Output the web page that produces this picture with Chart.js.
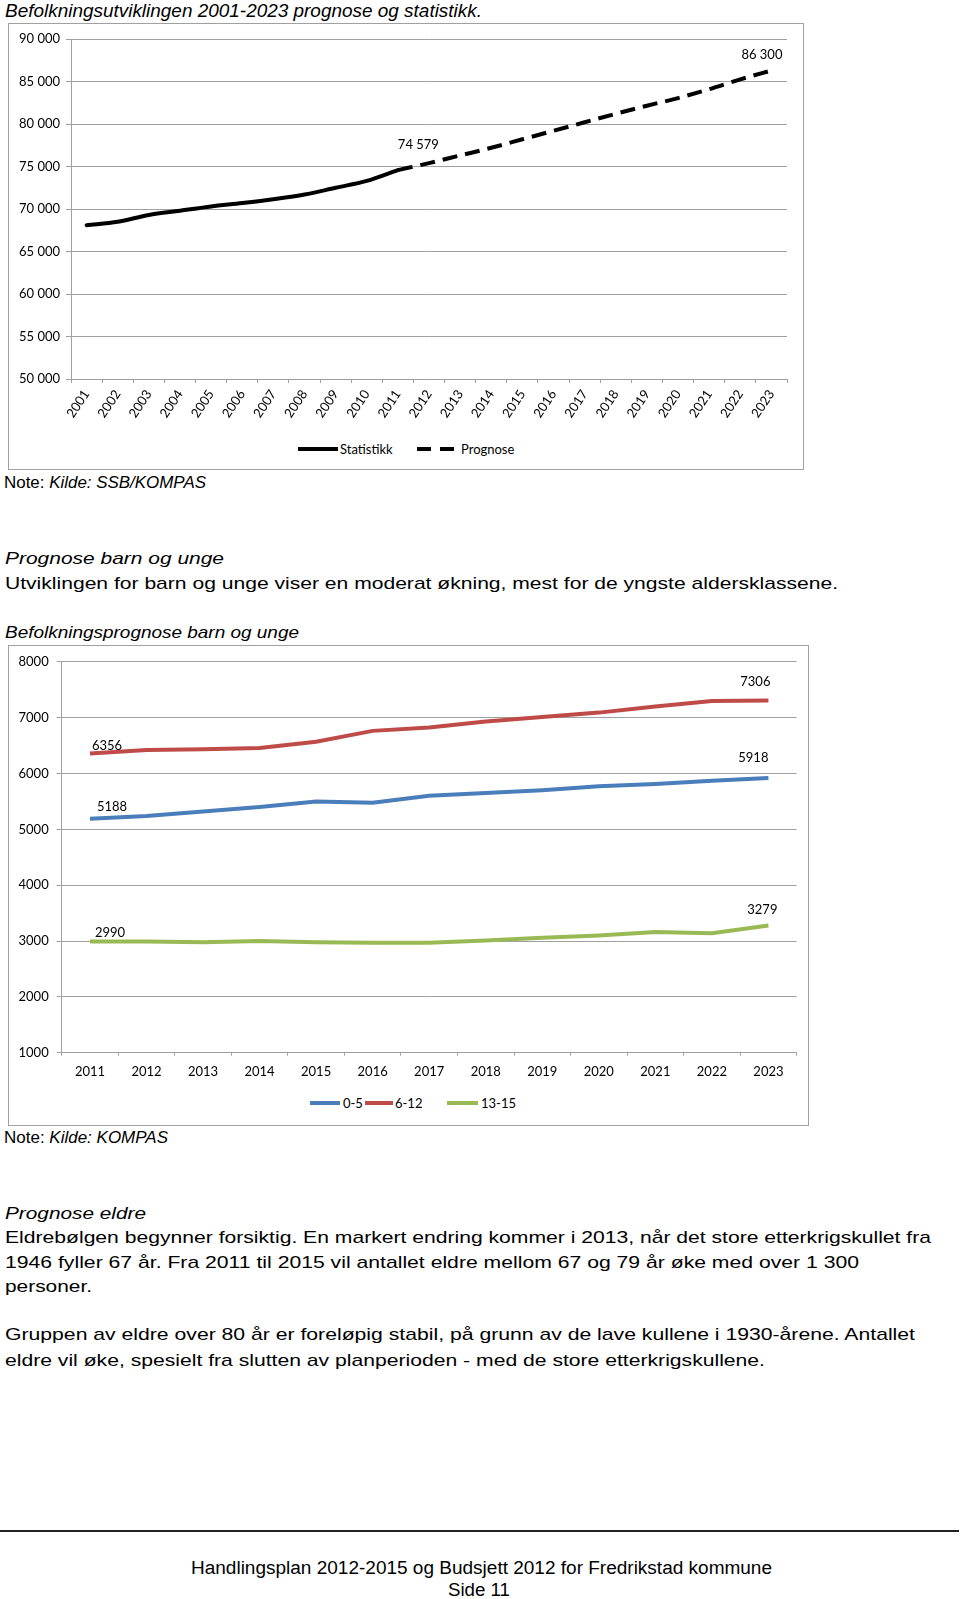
<!DOCTYPE html>
<html lang="no">
<head>
<meta charset="utf-8">
<title>Befolkningsutviklingen</title>
<script src="https://cdn.jsdelivr.net/npm/chart.js@4.4.1/dist/chart.umd.min.js"></script>
<style>
  html, body { margin: 0; padding: 0; background: #fff; }
  body { width: 960px; height: 1599px; position: relative; overflow: hidden;
         font-family: 'Liberation Sans', Arial, sans-serif; color: #000; }
  .t { position: absolute; white-space: nowrap; line-height: 1; transform-origin: 0 50%; }
  .i { font-style: italic; }
  .box { position: absolute; border: 1px solid #a0a0a0; box-sizing: border-box; }
  canvas { position: absolute; }
  .lg { position: absolute; font-family: Lato, sans-serif; font-size: 13px; line-height: 14px; white-space: nowrap; }
  .sw { position: absolute; height: 4px; }
  .hr { position: absolute; left: 0; width: 959px; top: 1530px; height: 1.5px; background: #222; }
</style>
</head>
<body>

<div class="t i fit" style="left:5px; top:2.5px; font-size:17.5px" data-w="477">Befolkningsutviklingen 2001-2023 prognose og statistikk.</div>

<!-- Diagram 1 -->
<div class="box" style="left:8px; top:23px; width:796px; height:447px"></div>
<canvas id="chartBefolkning" width="794" height="410" style="left:9px; top:24px"></canvas>
<div class="sw" style="left:298px; top:447px; width:40px; background:#000"></div>
<div class="lg" style="left:340px; top:442px">Statistikk</div>
<div class="sw" style="left:417px; top:447px; width:38px; background:repeating-linear-gradient(to right,#000 0 14px,transparent 14px 23px)"></div>
<div class="lg" style="left:461px; top:442px">Prognose</div>

<div class="t fit" style="left:4px; top:474px; font-size:16.5px" data-w="202">Note: <span class="i">Kilde: SSB/KOMPAS</span></div>

<div class="t i fit" style="left:5px; top:549.5px; font-size:17px" data-w="219">Prognose barn og unge</div>
<div class="t fit" style="left:5px; top:575px; font-size:17px" data-w="833">Utviklingen for barn og unge viser en moderat økning, mest for de yngste aldersklassene.</div>
<div class="t i fit" style="left:5px; top:624px; font-size:17px" data-w="294">Befolkningsprognose barn og unge</div>

<!-- Diagram 2 -->
<div class="box" style="left:8px; top:645px; width:801px; height:481px"></div>
<canvas id="chartBarn" width="799" height="440" style="left:9px; top:646px"></canvas>
<div class="sw" style="left:310px; top:1101px; width:30px; background:#4a7ebb"></div>
<div class="lg" style="left:343px; top:1096px">0-5</div>
<div class="sw" style="left:365px; top:1101px; width:28px; background:#be4b48"></div>
<div class="lg" style="left:395px; top:1096px">6-12</div>
<div class="sw" style="left:447px; top:1101px; width:31px; background:#98b954"></div>
<div class="lg" style="left:481px; top:1096px">13-15</div>

<div class="t fit" style="left:4px; top:1129px; font-size:16.5px" data-w="164">Note: <span class="i">Kilde: KOMPAS</span></div>

<div class="t i fit" style="left:5px; top:1204.5px; font-size:17px" data-w="141">Prognose eldre</div>
<div class="t fit" style="left:5px; top:1229px; font-size:17px" data-w="926">Eldrebølgen begynner forsiktig. En markert endring kommer i 2013, når det store etterkrigskullet fra</div>
<div class="t fit" style="left:5px; top:1253.5px; font-size:17px" data-w="854">1946 fyller 67 år. Fra 2011 til 2015 vil antallet eldre mellom 67 og 79 år øke med over 1 300</div>
<div class="t fit" style="left:5px; top:1278px; font-size:17px" data-w="87">personer.</div>
<div class="t fit" style="left:5px; top:1326px; font-size:17px" data-w="910">Gruppen av eldre over 80 år er foreløpig stabil, på grunn av de lave kullene i 1930-årene. Antallet</div>
<div class="t fit" style="left:5px; top:1351.5px; font-size:17px" data-w="760">eldre vil øke, spesielt fra slutten av planperioden - med de store etterkrigskullene.</div>

<div class="hr"></div>
<div class="t fit" style="left:191px; top:1559px; font-size:18px" data-w="581">Handlingsplan 2012-2015 og Budsjett 2012 for Fredrikstad kommune</div>
<div class="t fit" style="left:448px; top:1580.5px; font-size:18px" data-w="62">Side 11</div>

<script>
// ---- Data: befolkningsutvikling 2001-2023 ----
const aar = ['2001', '2002', '2003', '2004', '2005', '2006', '2007', '2008', '2009', '2010', '2011', '2012',
             '2013', '2014', '2015', '2016', '2017', '2018', '2019', '2020', '2021', '2022', '2023'];
const statistikk = [68100, 68500, 69300, 69800, 70300, 70700, 71150, 71700, 72500, 73300, 74579,
                    null, null, null, null, null, null, null, null, null, null, null, null];
const prognose = [null, null, null, null, null, null, null, null, null, null, 74579,
                  75400, 76300, 77200, 78200, 79200, 80200, 81200, 82150, 83050, 84100, 85250, 86300];

// ---- Data: barn og unge 2011-2023 ----
const aarBarn = ['2011', '2012', '2013', '2014', '2015', '2016', '2017', '2018', '2019', '2020', '2021', '2022', '2023'];
const alder0_5 = [5188, 5240, 5320, 5400, 5500, 5475, 5600, 5650, 5700, 5770, 5810, 5870, 5918];
const alder6_12 = [6356, 6420, 6435, 6455, 6570, 6763, 6822, 6930, 7010, 7090, 7200, 7300, 7306];
const alder13_15 = [2990, 2990, 2980, 3000, 2980, 2970, 2970, 3010, 3060, 3100, 3160, 3140, 3279];

const GRID = '#a0a0a0';
const FONT = { family: 'Lato, sans-serif', size: 13 };

// Tekstlinjer strekkes til samme bredde som i originalen
document.querySelectorAll('.fit').forEach(el => {
  const natural = el.getBoundingClientRect().width;
  el.style.transform = `scaleX(${Number(el.dataset.w) / natural})`;
});

/** Tusenskille med mellomrom: 90000 -> '90 000' */
function tusen(v) {
  return String(v).replace(/\B(?=(\d{3})+(?!\d))/g, ' ');
}

/** Plugin for dataetiketter ved utvalgte punkter */
const verdiEtiketter = {
  id: 'verdiEtiketter',
  afterDatasetsDraw(chart, args, opts) {
    const { ctx } = chart;
    ctx.save();
    ctx.font = `${FONT.size}px ${FONT.family}`;
    ctx.fillStyle = '#000';
    ctx.textBaseline = 'middle';
    opts.items.forEach(([ds, idx, dx, dy, align]) => {
      const pt = chart.getDatasetMeta(ds).data[idx];
      ctx.textAlign = align;
      ctx.fillText(opts.format(chart.data.datasets[ds].data[idx]), pt.x + dx, pt.y + dy);
    });
    ctx.restore();
  },
};

Chart.defaults.font.family = FONT.family;
Chart.defaults.font.size = FONT.size;
Chart.defaults.color = '#000';

// ============ Diagram 1: befolkningsutviklingen ============
new Chart(document.getElementById('chartBefolkning'), {
  type: 'line',
  data: {
    labels: aar,
    datasets: [
      { label: 'Statistikk', data: statistikk, borderColor: '#000', borderWidth: 4,
        pointRadius: 0, cubicInterpolationMode: 'monotone', borderCapStyle: 'round' },
      { label: 'Prognose', data: prognose, borderColor: '#000', borderWidth: 4, borderDash: [15, 8],
        pointRadius: 0, cubicInterpolationMode: 'monotone' },
    ],
  },
  options: {
    responsive: false,
    animation: false,
    layout: { padding: { top: 15, right: 16, left: 0, bottom: 0 } },
    plugins: {
      legend: { display: false },
      tooltip: { enabled: false },
      verdiEtiketter: {
        format: tusen,
        items: [[0, 10, 0, -25, 'left'], [1, 22, 11, -16, 'right']],
      },
    },
    scales: {
      x: {
        offset: true,
        grid: { offset: true, drawOnChartArea: false, tickLength: 4, color: GRID },
        border: { color: GRID },
        ticks: { minRotation: 56, maxRotation: 56, autoSkip: false, padding: 4 },
        afterFit: s => { s.height = 55; },
      },
      y: {
        min: 50000,
        max: 90000,
        ticks: { stepSize: 5000, padding: 6, callback: v => tusen(v) },
        grid: { color: GRID, tickLength: 5 },
        border: { color: GRID },
        afterFit: s => { s.width = 62; },
      },
    },
  },
  plugins: [verdiEtiketter],
});

// ============ Diagram 2: barn og unge ============
new Chart(document.getElementById('chartBarn'), {
  type: 'line',
  data: {
    labels: aarBarn,
    datasets: [
      { label: '0-5', data: alder0_5, borderColor: '#4a7ebb', borderWidth: 4, pointRadius: 0 },
      { label: '6-12', data: alder6_12, borderColor: '#be4b48', borderWidth: 4, pointRadius: 0 },
      { label: '13-15', data: alder13_15, borderColor: '#98b954', borderWidth: 4, pointRadius: 0 },
    ],
  },
  options: {
    responsive: false,
    animation: false,
    layout: { padding: { top: 14.7, right: 11.3, left: 0, bottom: 0 } },
    plugins: {
      legend: { display: false },
      tooltip: { enabled: false },
      verdiEtiketter: {
        format: v => String(v),
        items: [
          [0, 0, 7, -12, 'left'], [1, 0, 2, -8, 'left'], [2, 0, 5, -9, 'left'],
          [0, 12, 0, -20, 'right'], [1, 12, 2, -19, 'right'], [2, 12, 9, -16, 'right'],
        ],
      },
    },
    scales: {
      x: {
        offset: true,
        grid: { offset: true, drawOnChartArea: false, tickLength: 3, color: GRID },
        border: { color: GRID },
        ticks: { maxRotation: 0, autoSkip: false, padding: 8 },
        afterFit: s => { s.height = 33.3; },
      },
      y: {
        min: 1000,
        max: 8000,
        ticks: { stepSize: 1000, padding: 8, callback: v => String(v) },
        grid: { color: GRID, tickLength: 5 },
        border: { color: GRID },
        afterFit: s => { s.width = 52.7; },
      },
    },
  },
  plugins: [verdiEtiketter],
});
</script>
</body>
</html>
